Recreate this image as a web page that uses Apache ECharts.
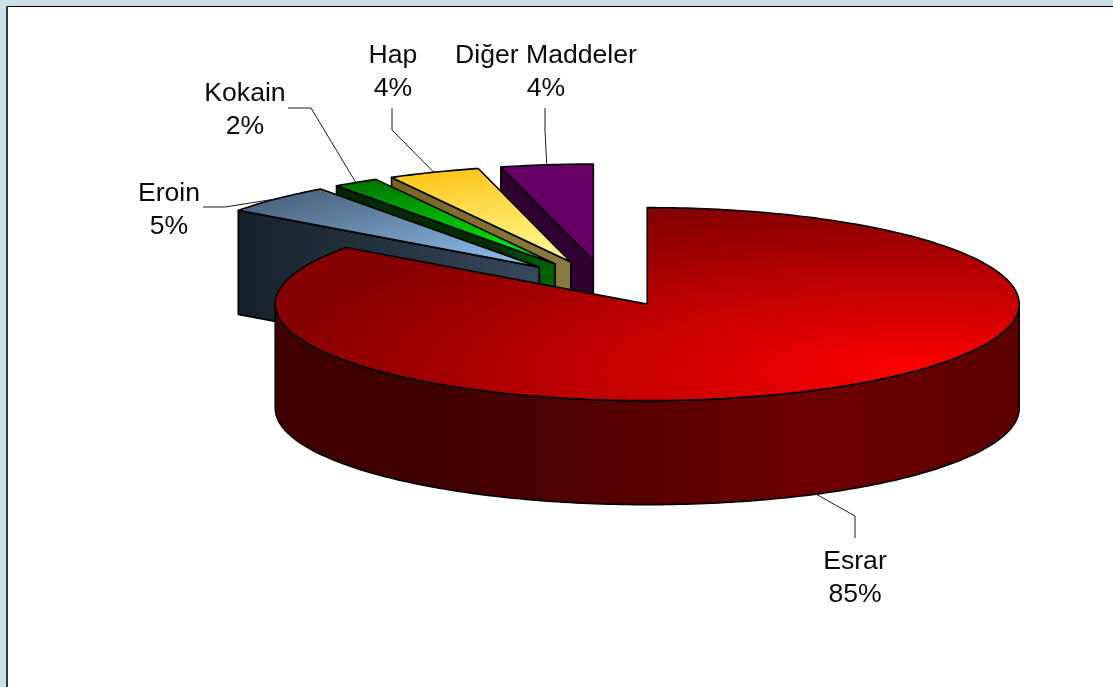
<!DOCTYPE html>
<html>
<head>
<meta charset="utf-8">
<style>html,body{margin:0;padding:0;background:#fff}#main{width:1113px;height:687px}</style>
<script src="https://cdn.jsdelivr.net/npm/echarts@6/dist/echarts.min.js"></script>
</head>
<body>
<div id="main"></div>
<script>
// ---- data ----
var categories = ['Esrar', 'Eroin', 'Kokain', 'Hap', 'Diğer Maddeler'];
var percents = [85, 5, 2, 4, 4];

// ---- style ----
var rimColors = ['#850000', '#4c6680', '#007400', '#ffc61c', '#660066'];
var coreColors = ['#ff0000', '#94c4f4', '#00ff00', '#ffff9c', '#660066'];
var wallStops = [
  [[0, '#3e0000'], [0.25, '#420000'], [0.72, '#6e0000'], [1, '#5c0000']],
  [[0, '#17212b'], [0.5, '#26333f'], [1, '#36495c']],
  [[0, '#002800'], [0.75, '#003000'], [0.95, '#006000'], [1, '#006000']],
  [[0, '#7a6420'], [1, '#8a7c42']],
  [[0, '#300030'], [1, '#300030']]
];

// ---- layout of the 3D pie ----
var pie = { cx: 605, cy: 283.5, rx: 372, ry: 96.5, depth: 104, explodeX: 0.25, explodeY: 0.24, stroke: 1.6 };
var focusOffsets = [[273, 67], [0, 0], [0, 0], [0, 0], [0, 0]];
var focusRadius = [650, 372, 372, 372, 372];
var labelCenters = [[855, 578], [169, 210], [245, 110], [393, 72], [546, 72]];
var leaderBends = [
  [[855, 538], [855, 516]],
  [[203, 207], [225, 207]],
  [[288, 108], [311, 108]],
  [[392, 108], [392, 130]],
  [[545, 108], [545, 130]]
];
var labelFont = '26.6px "Liberation Sans", Arial, sans-serif';
var labelLineHeight = 33;

var total = percents.reduce(function (a, b) { return a + b; }, 0);

function rad(i) { return (i * Math.PI) / 180; }

function renderSlice(params, api) {
  var i = params.dataIndex;
  var value = api.value(0);
  var before = 0;
  for (var b = 0; b < i; b++) before += percents[b];
  var a0 = (before / total) * 360;
  var a1 = ((before + value) / total) * 360;
  var mid = rad((a0 + a1) / 2);
  var cx = pie.cx + pie.explodeX * pie.rx * Math.sin(mid);
  var cy = pie.cy - pie.explodeY * pie.ry * Math.cos(mid);
  var k = pie.ry / pie.rx;
  var d = pie.depth;

  function pt(deg) {
    return [cx + pie.rx * Math.sin(rad(deg)), cy - pie.ry * Math.cos(rad(deg))];
  }
  function arc(from, to) {
    var out = [];
    for (var t = from; t < to; t += 1) out.push(pt(t));
    out.push(pt(to));
    return out;
  }
  function down(points) {
    return points.map(function (p) { return [p[0], p[1] + d]; });
  }

  var base = (10 - i) * 10;
  var children = [];
  var outline = { stroke: '#000', lineWidth: pie.stroke, lineJoin: 'round', fill: null };

  function wallFill(x0, x1) {
    return {
      type: 'linear', global: true, x: x0, y: 0, x2: x1, y2: 0,
      colorStops: wallStops[i].map(function (s) { return { offset: s[0], color: s[1] }; })
    };
  }

  // outer wall on the front half of the ellipse
  var f0 = Math.max(a0, 90), f1 = Math.min(a1, 270);
  if (f0 < f1) {
    var rim = arc(f0, f1);
    var wall = rim.concat(down(rim).reverse());
    var wf = wallFill(cx - pie.rx, cx + pie.rx);
    children.push({ type: 'polygon', z2: base, shape: { points: wall }, style: { fill: wf, stroke: '#000', lineWidth: pie.stroke } });
  }
  // cut wall facing the viewer
  if (a0 > 180) {
    var o = pt(a0);
    var cut = [o, [cx, cy], [cx, cy + d], [o[0], o[1] + d]];
    children.push({ type: 'polygon', z2: base + 1, shape: { points: cut }, style: { fill: wallFill(o[0], cx), stroke: '#000', lineWidth: pie.stroke, lineJoin: 'round' } });
  }

  // top face, painted in a squeezed space so its glow is elliptical
  var top = arc(a0, a1).concat([[cx, cy]]);
  var squeezed = top.map(function (p) { return [p[0], p[1] / k]; });
  children.push({
    type: 'polygon', z2: base + 2, scaleY: k,
    shape: { points: squeezed },
    style: {
      fill: {
        type: 'radial', global: true,
        x: cx + focusOffsets[i][0], y: (cy + focusOffsets[i][1]) / k, r: focusRadius[i],
        colorStops: [{ offset: 0, color: coreColors[i] }, { offset: 1, color: rimColors[i] }]
      }
    }
  });
  children.push({ type: 'polygon', z2: base + 3, shape: { points: top }, style: outline });

  // leader line and label
  var edge = pt((a0 + a1) / 2);
  if ((a0 + a1) / 2 > 90 && (a0 + a1) / 2 < 270) edge = [edge[0], edge[1] + d];
  children.push({
    type: 'polyline', z2: 200,
    shape: { points: leaderBends[i].concat([edge]) },
    style: { stroke: '#1a1a1a', lineWidth: 1, fill: null }
  });
  children.push({
    type: 'text', z2: 201,
    style: {
      text: api.value(1) + '\n' + value + '%',
      x: labelCenters[i][0], y: labelCenters[i][1],
      align: 'center', verticalAlign: 'middle',
      font: labelFont, lineHeight: labelLineHeight, fill: '#0a0a0a'
    }
  });
  return { type: 'group', children: children };
}

var chart = echarts.init(document.getElementById('main'), null, { renderer: 'canvas' });
chart.setOption({
  animation: false,
  graphic: [
    { type: 'rect', z: -3, silent: true, shape: { x: 0, y: 0, width: 1113, height: 687 }, style: { fill: '#cfe0ea' } },
    { type: 'rect', z: -2, silent: true, shape: { x: 6, y: 6, width: 1107, height: 681 }, style: { fill: '#000' } },
    { type: 'rect', z: -1, silent: true, shape: { x: 6, y: 6, width: 2, height: 681 }, style: { fill: '#2c3a44' } },
    { type: 'rect', z: -1, silent: true, shape: { x: 8, y: 7, width: 1105, height: 680 }, style: { fill: '#fff' } }
  ],
  series: [{
    type: 'custom',
    coordinateSystem: 'none',
    silent: true,
    renderItem: renderSlice,
    encode: { value: 0 },
    data: categories.map(function (name, i) { return [percents[i], name]; })
  }]
});
</script>
</body>
</html>
